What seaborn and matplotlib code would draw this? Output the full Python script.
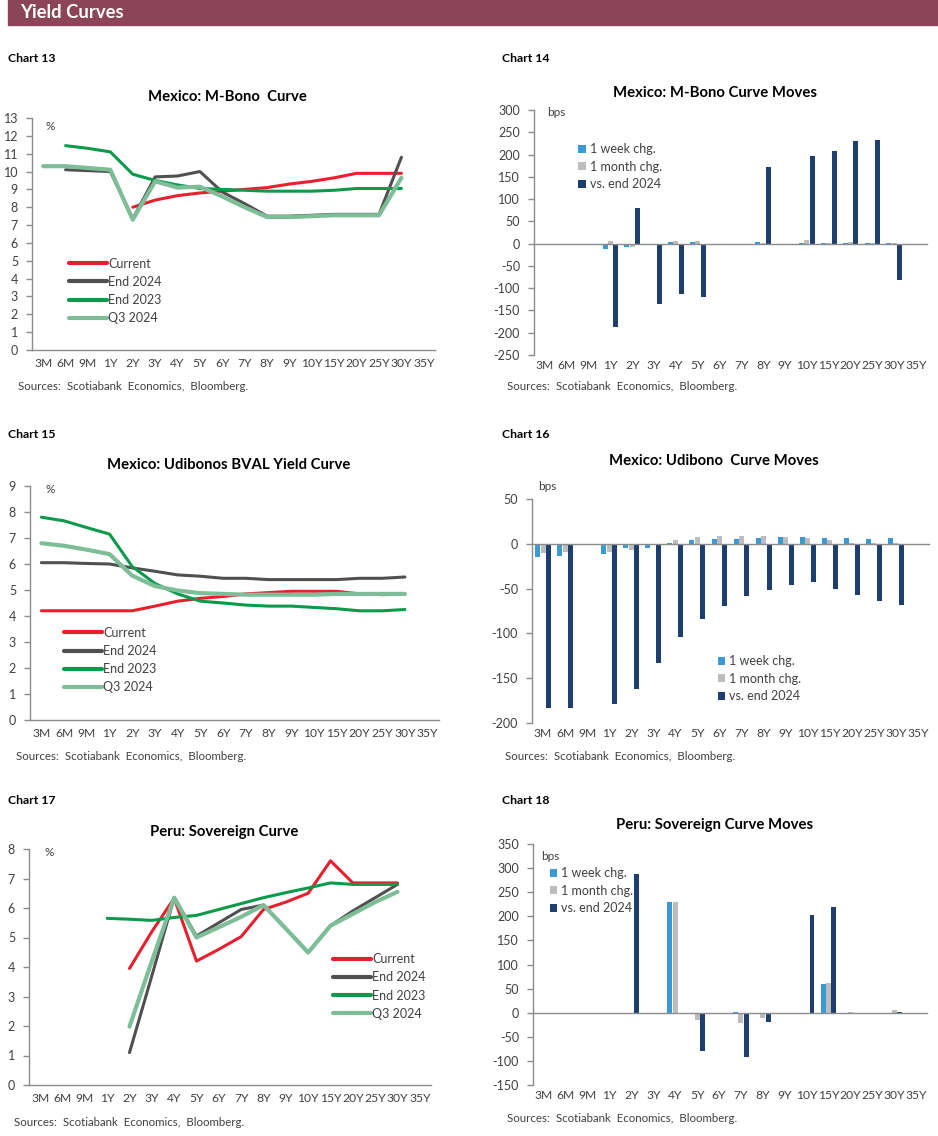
import numpy as np
import pandas as pd
import matplotlib.pyplot as plt
import matplotlib.patches as mpatches
import seaborn as sns

W, H = 938, 1136
nan = np.nan

tenors = ['3M', '6M', '9M', '1Y', '2Y', '3Y', '4Y', '5Y', '6Y', '7Y', '8Y', '9Y',
          '10Y', '15Y', '20Y', '25Y', '30Y', '35Y']

# Chart 13: Mexico M-Bono curve (%)
mbono_current = [nan, nan, nan, nan, 8.0, 8.4, 8.65, 8.8, 8.9, 9.0, 9.1, 9.3, 9.45, 9.65, 9.9, 9.9, 9.9, nan]
mbono_end2024 = [nan, 10.1, 10.05, 10.0, 7.35, 9.7, 9.75, 10.0, 8.85, 8.2, 7.5, 7.5, 7.55, 7.6, 7.6, 7.6, 10.8, nan]
mbono_end2023 = [nan, 11.45, 11.3, 11.1, 9.85, 9.5, 9.25, 9.05, 9.0, 8.95, 8.9, 8.9, 8.9, 8.95, 9.05, 9.05, 9.05, nan]
mbono_q32024 = [10.3, 10.3, 10.2, 10.1, 7.3, 9.45, 9.1, 9.15, 8.6, 8.0, 7.45, 7.45, 7.5, 7.55, 7.55, 7.55, 9.65, nan]

# Chart 14: M-Bono curve moves (bps)
mbono_1w = [nan, nan, nan, -11, -8, -3, 4, 4, nan, nan, 3, nan, 1, 1, 1, 1, 1, nan]
mbono_1m = [nan, nan, nan, 5, -8, 0, 5, 5, nan, nan, 1, nan, 8, 1, 3, 1, 1, nan]
mbono_ytd = [nan, nan, nan, -187, 80, -136, -112, -119, nan, nan, 172, nan, 196, 207, 231, 233, -81, nan]

# Chart 15: Mexico Udibonos BVAL curve (%)
udi_current = [4.2, 4.2, 4.2, 4.2, 4.2, 4.38, 4.57, 4.68, 4.75, 4.85, 4.9, 4.95, 4.95, 4.95, 4.85, 4.82, 4.85, nan]
udi_end2024 = [6.05, 6.05, 6.02, 6.0, 5.85, 5.72, 5.58, 5.53, 5.45, 5.45, 5.4, 5.4, 5.4, 5.4, 5.45, 5.45, 5.5, nan]
udi_end2023 = [7.8, 7.66, 7.4, 7.15, 5.9, 5.25, 4.85, 4.57, 4.5, 4.42, 4.38, 4.38, 4.33, 4.28, 4.2, 4.2, 4.25, nan]
udi_q32024 = [6.8, 6.7, 6.55, 6.38, 5.55, 5.15, 4.98, 4.88, 4.85, 4.82, 4.82, 4.82, 4.82, 4.85, 4.85, 4.85, 4.85, nan]

# Chart 16: Udibono curve moves (bps)
udi_1w = [-15, -14, nan, -11, -5, -5, 1, 4, 5, 5, 7, 8, 8, 7, 7, 5, 7, nan]
udi_1m = [-10, -9, nan, -9, -7, 0, 4, 8, 9, 9, 9, 8, 6, 4, 1, 1, 1, nan]
udi_ytd = [-183, -183, nan, -179, -162, -133, -104, -84, -69, -58, -52, -46, -43, -50, -57, -64, -68, nan]

# Chart 17: Peru sovereign curve (%)
peru_current = [nan, nan, nan, nan, 3.95, 5.2, 6.33, 4.2, 4.6, 5.03, 5.95, 6.2, 6.5, 7.6, 6.85, 6.85, 6.85, nan]
peru_end2024 = [nan, nan, nan, nan, 1.1, 3.7, 6.35, 5.05, 5.5, 5.95, 6.1, 5.3, 4.5, 5.4, 5.9, 6.35, 6.8, nan]
peru_end2023 = [nan, nan, nan, 5.65, 5.62, 5.58, 5.68, 5.75, 5.95, 6.15, 6.35, 6.52, 6.68, 6.85, 6.8, 6.8, 6.8, nan]
peru_q32024 = [nan, nan, nan, nan, 1.98, 4.2, 6.35, 5.0, 5.35, 5.7, 6.1, 5.3, 4.49, 5.4, 5.8, 6.2, 6.55, nan]

# Chart 18: Peru curve moves (bps)
peru_1w = [nan, nan, nan, nan, 0, nan, 230, 0, nan, 2, 0, nan, -3, 60, nan, nan, 0, nan]
peru_1m = [nan, nan, nan, nan, -1, nan, 230, -15, nan, -22, -12, nan, 0, 62, 1, nan, 5, nan]
peru_ytd = [nan, nan, nan, nan, 288, nan, 0, -80, nan, -91, -20, nan, 203, 220, nan, nan, 2, nan]

line_names = ['Current', 'End 2024', 'End 2023', 'Q3 2024']
line_colors = ['#E8202E', '#505050', '#0B9A4B', '#7DBE98']
line_widths = [2.2, 2.2, 2.2, 3.0]
bar_names = ['1 week chg.', '1 month chg.', 'vs. end 2024']
bar_colors = ['#3A9AD6', '#BDBDBD', '#1F3E70']

sns.set_theme(style='white')
plt.rcParams['font.family'] = ['Lato', 'DejaVu Sans']
plt.rcParams['axes.unicode_minus'] = False

fig = plt.figure(figsize=(W / 100, H / 100), dpi=100)
TXT = '#404040'
SPINE = '#8C8C8C'


def fx(x):
    return x / W


def fy(y):
    return 1 - y / H


def make_axes(left, top, right, bottom):
    return fig.add_axes([fx(left), fy(bottom), (right - left) / W, (bottom - top) / H])


def style_axes(ax, yticks, zero_axis=False, h_px=None):
    ax.set_xlim(-0.5, len(tenors) - 0.5)
    ax.set_ylim(yticks[0], yticks[-1])
    ax.set_yticks(yticks)
    ax.set_yticklabels([str(v) for v in yticks])
    ax.set_xticks(np.arange(len(tenors)))
    ax.set_xticklabels(tenors)
    ax.set_xticks(np.arange(-0.5, len(tenors), 1), minor=True)
    for s in ['top', 'right']:
        ax.spines[s].set_visible(False)
    for s in ['left', 'bottom']:
        ax.spines[s].set_color(SPINE)
        ax.spines[s].set_linewidth(1.0)
    pad = 6
    if zero_axis:
        # x axis line sits on zero, labels stay below the plot area
        ax.spines['bottom'].set_position(('data', 0))
        dist = (0 - yticks[0]) / (yticks[-1] - yticks[0]) * h_px
        pad = (dist + 5) * 72 / 100
    ax.tick_params(axis='x', which='major', length=0, pad=pad, labelsize=8.7, labelcolor=TXT)
    ax.tick_params(axis='x', which='minor', length=4, width=1, color=SPINE, direction='out')
    ax.tick_params(axis='y', which='major', length=4, width=1, color=SPINE, direction='out',
                   pad=6, labelsize=9, labelcolor=TXT, left=True)
    ax.set_xlabel('')
    ax.set_ylabel('')
    ax.grid(False)


def line_chart(box, series, yticks, legend_anchor):
    ax = make_axes(*box)
    pos = np.arange(len(tenors))
    for vals, name, c, lw in zip(series, line_names, line_colors, line_widths):
        sns.lineplot(x=pos, y=np.array(vals, dtype=float), ax=ax, color=c, linewidth=lw, label=name)
    style_axes(ax, yticks)
    ax.legend(loc='upper left', bbox_to_anchor=legend_anchor, frameon=False, fontsize=9,
              handlelength=3.0, handletextpad=0.1, labelspacing=0.5, borderaxespad=0,
              labelcolor=TXT)
    for h in ax.get_legend().get_lines():
        h.set_linewidth(3)
    return ax


def bar_chart(box, series, yticks, legend_anchor):
    ax = make_axes(*box)
    df = pd.DataFrame({
        'tenor': tenors * 3,
        'series': np.repeat(bar_names, len(tenors)),
        'value': np.concatenate([np.array(s, dtype=float) for s in series]),
    }).dropna()
    sns.barplot(data=df, x='tenor', y='value', hue='series', order=tenors, hue_order=bar_names,
                palette=bar_colors, width=0.74, gap=0.08, errorbar=None, ax=ax, saturation=1,
                linewidth=0)
    style_axes(ax, yticks, zero_axis=True, h_px=box[3] - box[1])
    leg = ax.legend(loc='upper left', bbox_to_anchor=legend_anchor, frameon=False, fontsize=9,
                    handlelength=0.6, handleheight=0.6, handletextpad=0.3, labelspacing=0.45,
                    borderaxespad=0, labelcolor=TXT)
    leg.set_zorder(10)
    return ax


# header band
fig.patches.append(mpatches.Rectangle((fx(8), fy(25)), 1 - fx(8), 25 / H, transform=fig.transFigure,
                                      color='#8B4458', zorder=0))
fig.text(fx(20), fy(12.5), 'Yield Curves', color='white', fontsize=13.3, fontweight='bold', va='center')

# chart labels
for lbl, x, y in [('Chart 13', 8, 59), ('Chart 14', 502, 59), ('Chart 15', 8, 434),
                  ('Chart 16', 502, 434), ('Chart 17', 8, 800), ('Chart 18', 502, 800)]:
    fig.text(fx(x), fy(y), lbl, fontsize=8.8, fontweight='bold', color='black', va='center')

# titles
for t, x, y in [('Mexico: M-Bono  Curve', 227, 97), ('Mexico: M-Bono Curve Moves', 715, 93),
                ('Mexico: Udibonos BVAL Yield Curve', 229, 465), ('Mexico: Udibono  Curve Moves', 714, 461),
                ('Peru: Sovereign Curve', 224, 832), ('Peru: Sovereign Curve Moves', 715, 825)]:
    fig.text(fx(x), fy(y), t, fontsize=10.7, fontweight='bold', color='black', ha='center', va='center')

# sources
for x, y in [(18, 386), (507, 386), (16, 757), (505, 756), (14, 1122), (507, 1118)]:
    fig.text(fx(x), fy(y), 'Sources:  Scotiabank  Economics,  Bloomberg.', fontsize=8.3, color=TXT, va='center')

# units
for u, x, y in [('%', 50, 126), ('bps', 556, 113), ('%', 50, 490), ('bps', 547, 486),
                ('%', 49, 853), ('bps', 550, 856)]:
    fig.text(fx(x), fy(y), u, fontsize=8.5, color=TXT, ha='center', va='center')

line_chart((32, 118, 435, 350), [mbono_current, mbono_end2024, mbono_end2023, mbono_q32024],
           list(range(0, 14)), (0.08, 0.42))
bar_chart((534, 110, 927, 355), [mbono_1w, mbono_1m, mbono_ytd],
          list(range(-250, 301, 50)), (0.1, 0.885))
line_chart((30, 486, 439, 720), [udi_current, udi_end2024, udi_end2023, udi_q32024],
           list(range(0, 10)), (0.072, 0.42))
bar_chart((532, 499, 929, 723), [udi_1w, udi_1m, udi_ytd],
          list(range(-200, 51, 50)), (0.455, 0.325))
line_chart((29, 849, 431, 1085), [peru_current, peru_end2024, peru_end2023, peru_q32024],
           list(range(0, 9)), (0.745, 0.58))
bar_chart((533, 844, 927, 1085), [peru_1w, peru_1m, peru_ytd],
          list(range(-150, 351, 50)), (0.03, 0.925))

fig.savefig('out.png', dpi=100)
